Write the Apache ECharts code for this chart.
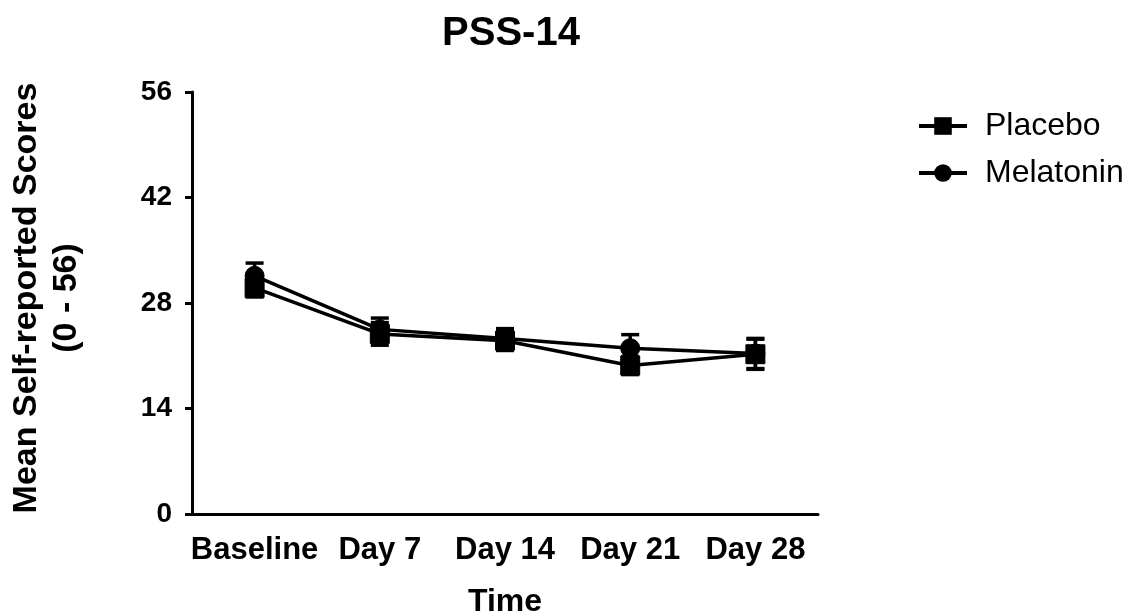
<!DOCTYPE html>
<html>
<head>
<meta charset="utf-8">
<script src="https://cdn.jsdelivr.net/npm/echarts@6/dist/echarts.min.js"></script>
<style>
html,body{margin:0;padding:0;background:#fff;}
#chart{width:1132px;height:616px;}
</style>
</head>
<body>
<div id="chart"></div>
<script>
const categories = ['Baseline', 'Day 7', 'Day 14', 'Day 21', 'Day 28'];
const placebo = [30.0, 23.9, 23.0, 19.7, 21.2];
const melatonin = [31.6, 24.5, 23.3, 22.0, 21.3];
const placeboErr = [1.2, 1.5, 1.3, 1.2, 2.0];
const melatoninErr = [1.7, 1.5, 1.3, 1.8, 2.0];
const yMin = 0, yMax = 56, yStep = 14;

const FONT = '"Liberation Sans", Arial, sans-serif';

function errData(vals, errs) {
  return vals.map((v, i) => [i, v, errs[i]]);
}
function renderErr(params, api) {
  const i = api.value(0), v = api.value(1), e = api.value(2);
  const c = api.coord([i, v]);
  const t = api.coord([i, v + e]);
  const b = api.coord([i, v - e]);
  const hw = 9;
  const style = { stroke: '#000', lineWidth: 3.5 };
  return {
    type: 'group',
    children: [
      { type: 'line', shape: { x1: c[0], y1: t[1], x2: c[0], y2: b[1] }, style },
      { type: 'line', shape: { x1: c[0] - hw, y1: t[1], x2: c[0] + hw, y2: t[1] }, style },
      { type: 'line', shape: { x1: c[0] - hw, y1: b[1], x2: c[0] + hw, y2: b[1] }, style }
    ]
  };
}

const chart = echarts.init(document.getElementById('chart'), null, { renderer: 'canvas' });
chart.setOption({
  animation: false,
  backgroundColor: '#fff',
  title: {
    text: 'PSS-14',
    left: 506, textAlign: 'center', top: 9,
    textStyle: { fontFamily: FONT, fontWeight: 'bold', fontSize: 40, color: '#000' }
  },
  legend: {
    data: ['Placebo', 'Melatonin'],
    orient: 'vertical',
    left: 912, top: 105,
    itemWidth: 48, itemHeight: 22, itemGap: 15,
    lineStyle: { width: 4, color: '#000' },
    textStyle: { fontFamily: FONT, fontSize: 32, color: '#000', padding: [0, 0, 0, 13] }
  },
  grid: { left: 192, right: 314, top: 92, bottom: 102, containLabel: false, outerBoundsMode: 'none' },
  xAxis: {
    type: 'category',
    data: categories,
    boundaryGap: true,
    name: 'Time',
    nameLocation: 'middle',
    nameGap: 72,
    nameTextStyle: { fontFamily: FONT, fontWeight: 'bold', fontSize: 32, color: '#000' },
    axisLine: { lineStyle: { color: '#000', width: 3 } },
    axisTick: { alignWithLabel: true, length: 7, lineStyle: { color: '#000', width: 3 } },
    axisLabel: { fontFamily: FONT, fontWeight: 'bold', fontSize: 31, color: '#000', margin: 21, interval: 0 },
    splitLine: { show: false }
  },
  yAxis: {
    type: 'value',
    min: yMin, max: yMax, interval: yStep,
    name: 'Mean Self-reported Scores\n(0 - 56)',
    nameLocation: 'middle',
    nameGap: 105,
    nameTextStyle: { fontFamily: FONT, fontWeight: 'bold', fontSize: 34, color: '#000', lineHeight: 40, align: 'center', padding: [0, 0, 0, 10] },
    axisLine: { show: true, lineStyle: { color: '#000', width: 3 } },
    axisTick: { show: true, length: 7, lineStyle: { color: '#000', width: 3 } },
    axisLabel: { fontFamily: FONT, fontWeight: 'bold', fontSize: 28, color: '#000', margin: 20 },
    splitLine: { show: false }
  },
  series: [
    {
      name: 'MelatoninErr', type: 'custom', renderItem: renderErr,
      data: errData(melatonin, melatoninErr), encode: { x: 0, y: 1 }, z: 1, silent: true
    },
    {
      name: 'PlaceboErr', type: 'custom', renderItem: renderErr,
      data: errData(placebo, placeboErr), encode: { x: 0, y: 1 }, z: 1, silent: true
    },
    {
      name: 'Melatonin', type: 'line', data: melatonin,
      symbol: 'circle', symbolSize: 19,
      lineStyle: { color: '#000', width: 3.5 },
      itemStyle: { color: '#000', borderColor: '#000' },
      z: 3
    },
    {
      name: 'Placebo', type: 'line', data: placebo,
      symbol: 'rect', symbolSize: 19,
      lineStyle: { color: '#000', width: 3.5 },
      itemStyle: { color: '#000', borderColor: '#000' },
      z: 4
    }
  ]
});
</script>
</body>
</html>
